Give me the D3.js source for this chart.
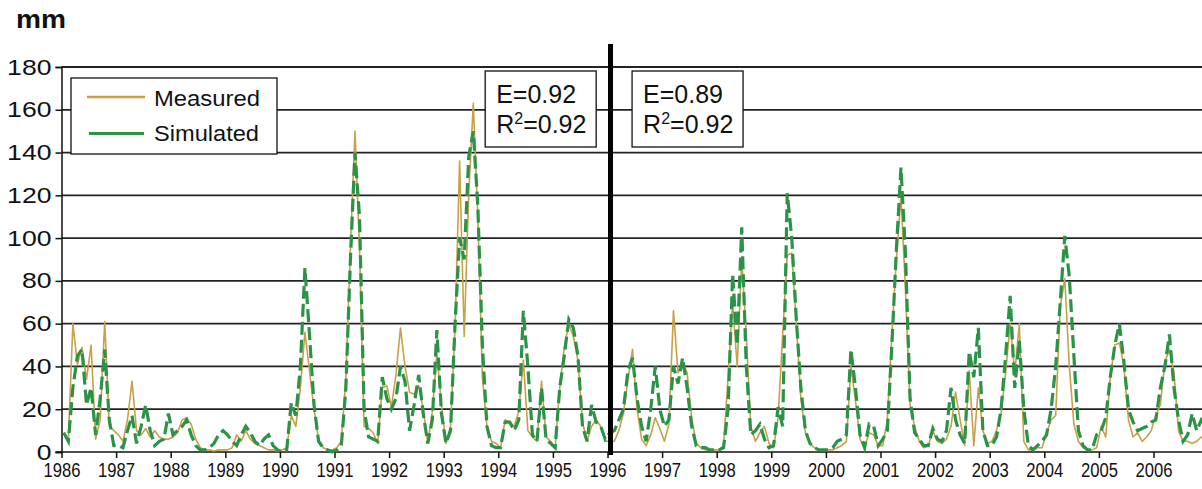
<!DOCTYPE html>
<html>
<head>
<meta charset="utf-8">
<script src="https://cdn.jsdelivr.net/npm/d3@7"></script>
<style>
  body { margin: 0; background: #fff; }
  svg { display: block; font-family: Arial, "Liberation Sans", sans-serif; }
</style>
</head>
<body>
<svg id="chart" width="1202" height="489"></svg>
<script>
// monthly values, Jan 1986 .. Dec 2006 (one row per year)
const startYear = 1986;
const yearLabels = d3.range(1986, 2007);
const yTicks = [0, 20, 40, 60, 80, 100, 120, 140, 160, 180];

const measured = [
  9, 5, 60, 41, 49, 34, 50, 6, 15, 61, 12, 10,        // 1986
  8, 5, 15, 33, 10, 8, 11, 7, 10, 7, 6, 6,            // 1987
  7, 9, 15, 16, 13, 6, 2, 1, 1, 0.5, 1, 1,            // 1988
  1, 2, 8, 5, 10, 6, 4, 3, 2, 1, 1, 0.5,              // 1989
  1, 2, 17, 12, 30, 56, 38, 20, 6, 2, 1, 1,           // 1990
  2, 5, 35, 95, 150, 95, 12, 11, 9, 4, 30, 31,        // 1991
  21, 36, 58, 40, 28, 27, 31, 20, 4, 19, 46, 22,      // 1992
  4, 12, 58, 136, 54, 120, 163, 110, 35, 12, 5, 4,    // 1993
  2, 15, 14, 12, 19, 43, 10, 7, 5, 33, 7, 5,          // 1994
  2, 30, 49, 60, 54, 43, 14, 5, 12, 15, 12, 5,        // 1995
  5, 5, 10, 18, 34, 48, 20, 6, 3, 8, 16, 11,          // 1996
  5, 13, 66, 37, 42, 37, 16, 4, 2, 1, 1, 1,           // 1997
  1, 3, 35, 70, 40, 90, 55, 12, 5, 9, 12, 4,          // 1998
  2, 16, 55, 92, 93, 60, 25, 9, 4, 2, 1, 1,           // 1999
  1, 1, 2, 3, 5, 40, 24, 6, 2, 9, 8, 3,               // 2000
  3, 15, 55, 90, 120, 75, 22, 12, 5, 2, 3, 10,        // 2001
  5, 4, 6, 12, 28, 15, 3, 38, 3, 30, 10, 4,           // 2002
  5, 10, 18, 37, 60, 37, 60, 5, 1, 1, 2, 2,           // 2003
  9, 15, 17, 68, 81, 40, 13, 5, 2, 1, 1, 2,           // 2004
  12, 7, 35, 50, 51, 40, 15, 7, 9, 5, 7, 10,          // 2005
  17, 22, 42, 48, 37, 10, 5, 5, 4, 5, 7, 6            // 2006
];

const simulated = [
  9, 5, 30, 45, 48, 22, 30, 8, 25, 48, 15, 3,         // 1986
  3, 2, 10, 17, 4, 12, 22, 10, 3, 5, 6, 18,           // 1987
  8, 10, 12, 15, 8, 3, 1, 1, 2, 4, 8, 10,             // 1988
  8, 5, 3, 8, 12, 9, 5, 3, 6, 8, 3, 1,                // 1989
  0, 1, 23, 17, 40, 86, 55, 22, 5, 2, 1, 0,           // 1990
  1, 3, 30, 90, 140, 110, 20, 7, 6, 5, 35, 25,        // 1991
  20, 25, 40, 33, 10, 22, 36, 18, 4, 15, 57, 18,      // 1992
  4, 10, 60, 100, 90, 138, 150, 115, 50, 12, 3, 2,    // 1993
  2, 14, 14, 10, 15, 66, 40, 8, 5, 30, 6, 4,          // 1994
  2, 30, 45, 62, 58, 45, 12, 5, 22, 14, 12, 6,        // 1995
  9, 10, 15, 20, 38, 44, 25, 12, 5, 20, 40, 20,       // 1996
  12, 15, 40, 32, 44, 30, 12, 3, 2, 2, 1, 1,          // 1997
  1, 2, 20, 83, 50, 105, 40, 8, 10, 13, 6, 2,         // 1998
  3, 21, 12, 121, 100, 62, 30, 10, 4, 2, 1, 1,        // 1999
  1, 2, 5, 6, 8, 48, 30, 8, 2, 13, 12, 3,             // 2000
  6, 10, 50, 95, 133, 92, 25, 9, 6, 3, 3, 11,         // 2001
  6, 5, 10, 30, 15, 8, 4, 47, 35, 58, 10, 3,          // 2002
  3, 7, 20, 45, 73, 30, 52, 20, 3, 1, 3, 5,           // 2003
  8, 20, 40, 70, 101, 82, 45, 10, 3, 1, 1, 8,         // 2004
  10, 16, 35, 50, 60, 42, 20, 14, 10, 11, 12, 14,     // 2005
  15, 30, 40, 55, 30, 15, 5, 8, 18, 10, 15, 12        // 2006
];

const statBoxes = [
  { x0: 1993.76, E: "0.92", R2: "0.92" },
  { x0: 1996.45, E: "0.89", R2: "0.92" }
];
const splitYear = 1996;

const svg = d3.select("#chart");
const W = 1202;
const m = { left: 61.5, top: 67, bottom: 452 };

const x = d3.scaleLinear().domain([1986, 2007]).range([m.left, m.left + 21 * 54.6]);
const y = d3.scaleLinear().domain([0, 180]).range([m.bottom, m.top]);

const t = i => startYear + (i + 0.5) / 12;

// "mm" unit label
svg.append("text")
    .attr("x", 16).attr("y", 28)
    .text("mm")
    .attr("textLength", 50).attr("lengthAdjust", "spacingAndGlyphs")
    .style("font-size", "26px")
    .style("font-weight", "bold")
    .style("fill", "#111");

// horizontal gridlines
svg.append("g")
  .selectAll("line")
  .data(yTicks.filter(d => d > 0))
  .join("line")
    .attr("x1", m.left).attr("x2", W)
    .attr("y1", d => y(d)).attr("y2", d => y(d))
    .style("stroke", "#222")
    .style("stroke-width", "1.8px");

// y axis
const yAxis = svg.append("g")
    .attr("transform", `translate(${m.left},0)`)
    .call(d3.axisLeft(y).tickValues(yTicks).tickSize(6).tickPadding(4));
yAxis.select(".domain").style("stroke", "#111").style("stroke-width", "1.5px");
yAxis.selectAll(".tick line").style("stroke", "#111").style("stroke-width", "1.5px");
yAxis.selectAll("text")
    .style("font-size", "22px").style("fill", "#111")
    .attr("textLength", d => String(d).length * 14.8)
    .attr("lengthAdjust", "spacingAndGlyphs");

// x axis
const xAxis = svg.append("g")
    .attr("transform", `translate(0,${m.bottom})`)
    .call(d3.axisBottom(x).tickValues(yearLabels).tickFormat(d3.format("d")).tickSize(6).tickPadding(5));
xAxis.select(".domain").attr("d", `M${m.left - 6},0H${W}`).style("stroke", "#111").style("stroke-width", "1.5px");
xAxis.selectAll(".tick line").style("stroke", "#111").style("stroke-width", "1.5px");
xAxis.selectAll("text")
    .style("font-size", "20px").style("fill", "#111")
    .attr("textLength", 37).attr("lengthAdjust", "spacingAndGlyphs");

// series
const line = d3.line().x((d, i) => x(t(i))).y(d => y(d));

svg.append("path")
    .datum(measured)
    .attr("d", line)
    .style("fill", "none")
    .style("stroke", "#c8a04a")
    .style("stroke-width", "1.6px")
    .style("stroke-linejoin", "round");

svg.append("path")
    .datum(simulated)
    .attr("d", line)
    .style("fill", "none")
    .style("stroke", "#2b9347")
    .style("stroke-width", "3.2px")
    .style("stroke-dasharray", "13,5");

// split line between calibration and validation
svg.append("line")
    .attr("x1", x(splitYear) + 3).attr("x2", x(splitYear) + 3)
    .attr("y1", 44).attr("y2", m.bottom + 3)
    .style("stroke", "#000")
    .style("stroke-width", "5px");

// legend
const lg = svg.append("g");
lg.append("rect")
    .attr("x", 71).attr("y", 78).attr("width", 206).attr("height", 76)
    .style("fill", "#fff").style("stroke", "#111").style("stroke-width", "1.3px");
lg.append("line")
    .attr("x1", 87).attr("x2", 145).attr("y1", 97).attr("y2", 97)
    .style("stroke", "#c8a04a").style("stroke-width", "2.5px");
lg.append("line")
    .attr("x1", 89).attr("x2", 144).attr("y1", 133.5).attr("y2", 133.5)
    .style("stroke", "#2b9347").style("stroke-width", "3.2px");
lg.append("text").attr("x", 154).attr("y", 105.5).text("Measured")
    .attr("textLength", 106).attr("lengthAdjust", "spacingAndGlyphs")
    .style("font-size", "22.5px").style("fill", "#111");
lg.append("text").attr("x", 154).attr("y", 141).text("Simulated")
    .attr("textLength", 105).attr("lengthAdjust", "spacingAndGlyphs")
    .style("font-size", "22.5px").style("fill", "#111");

// efficiency boxes
statBoxes.forEach(b => {
  const bx = x(b.x0);
  const g = svg.append("g");
  g.append("rect")
      .attr("x", bx).attr("y", 71).attr("width", 111).attr("height", 76)
      .style("fill", "#fff").style("stroke", "#111").style("stroke-width", "1.3px");
  g.append("text").attr("x", bx + 11).attr("y", 103).text("E=" + b.E)
      .style("font-size", "25px").style("fill", "#111");
  const r = g.append("text").attr("x", bx + 11).attr("y", 133)
      .style("font-size", "25px").style("fill", "#111");
  r.append("tspan").text("R");
  r.append("tspan").text("2").attr("dy", -9).style("font-size", "16px");
  r.append("tspan").text("=" + b.R2).attr("dy", 9);
});
</script>
</body>
</html>
